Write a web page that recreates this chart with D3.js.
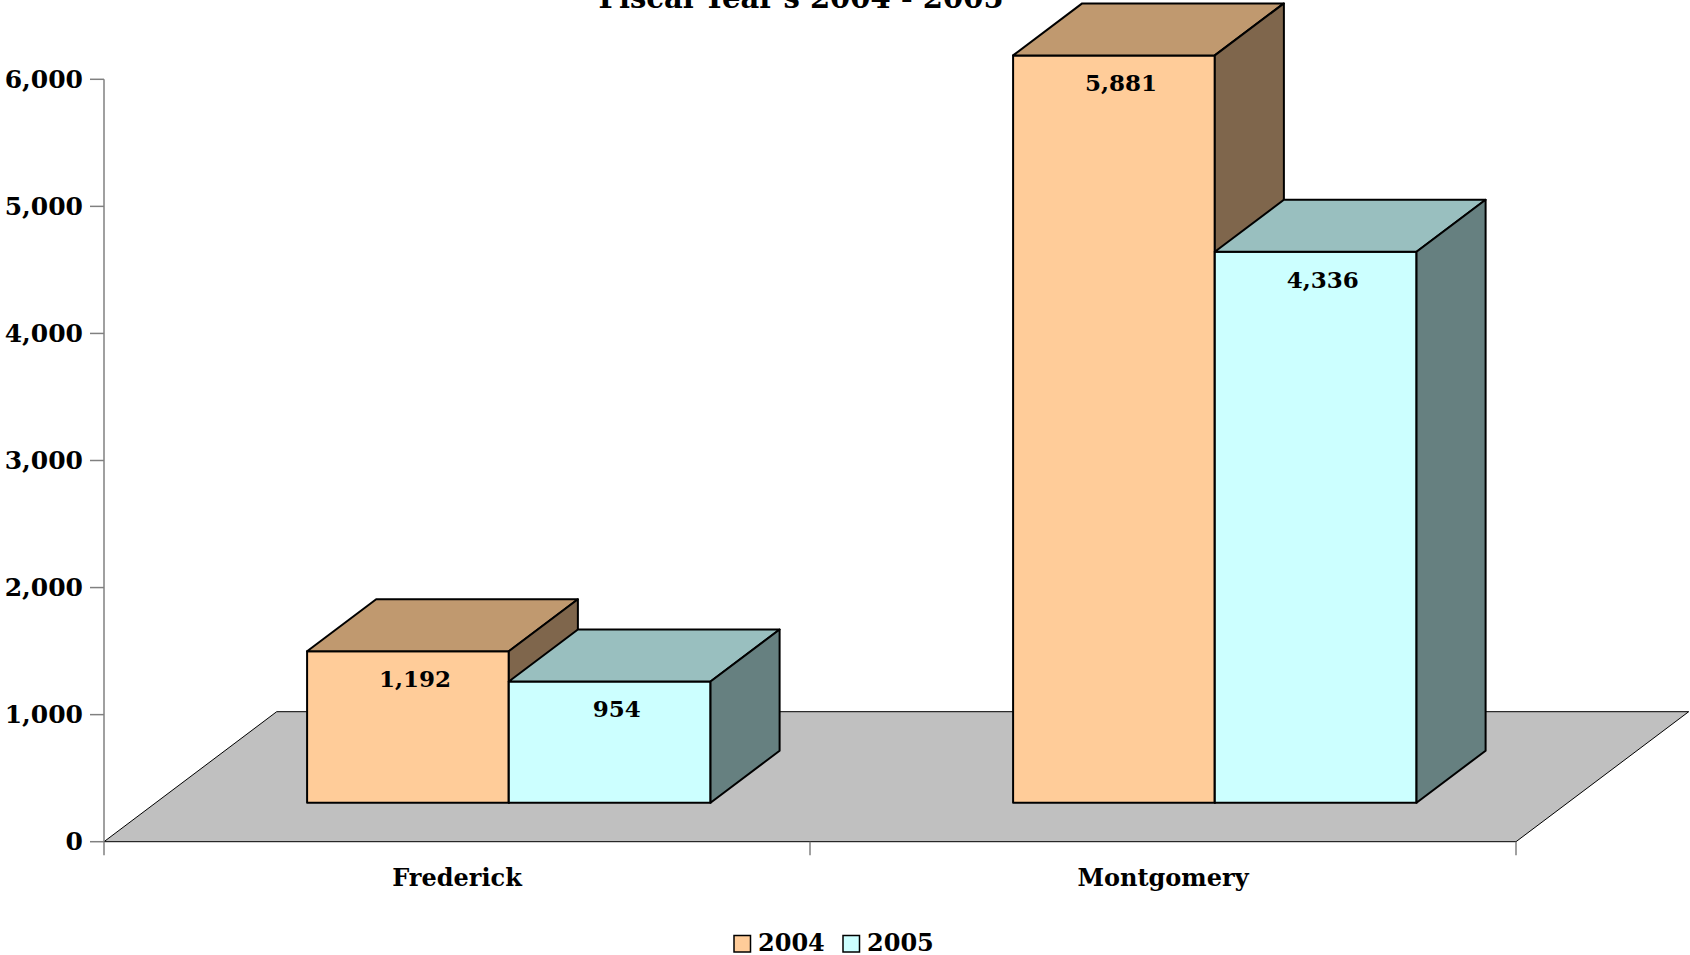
<!DOCTYPE html>
<html>
<head>
<meta charset="utf-8">
<script src="https://cdn.jsdelivr.net/npm/d3@7"></script>
<style>
  html, body { margin: 0; padding: 0; background: #fff; }
  svg { display: block; }
  text { font-family: "DejaVu Serif", serif; font-weight: bold; fill: #000; }
</style>
</head>
<body>
<svg id="chart" width="1690" height="955"></svg>
<script>
// Counties and yearly totals
const categories = ["Frederick", "Montgomery"];
const seriesNames = ["2004", "2005"];
const values2004 = [1192, 5881];
const values2005 = [954, 4336];
const yTicks = [0, 1000, 2000, 3000, 4000, 5000, 6000];
const titleText = "Fiscal Year's 2004 - 2005";

const series = [
  { name: seriesNames[0], values: values2004, front: "#FFCC99", top: "#C0996F", side: "#7F664C" },
  { name: seriesNames[1], values: values2005, front: "#CCFFFF", top: "#99BFBF", side: "#668080" }
];

const svg = d3.select("#chart");

// Plot geometry (front plane) and the oblique depth of the floor
const left = 104, right = 1516, base = 841.7, topY = 79.3;
const depthX = 172.7, depthY = -130;
const barDepthStart = 0.3, barDepthEnd = 0.7;

const y = d3.scaleLinear().domain([0, 6000]).range([base, topY]);
const x0 = d3.scaleBand().domain(categories).range([left, right]).padding(0);
const x1 = d3.scaleBand().domain(seriesNames).range([0, x0.bandwidth()])
  .paddingInner(0).paddingOuter(0.75);

// Title (upper line sits above the page edge)
svg.append("text")
  .attr("x", 801).attr("y", 8)
  .attr("text-anchor", "middle")
  .style("font-size", "29px")
  .text(titleText);

// Floor
const floorPts = [
  [left, base], [right, base],
  [right + depthX, base + depthY], [left + depthX, base + depthY]
];
svg.append("polygon")
  .attr("points", floorPts.map(p => p.join(",")).join(" "))
  .attr("fill", "#C0C0C0")
  .attr("stroke", "#000")
  .attr("stroke-width", 1);

// Value axis
svg.append("line")
  .attr("x1", left).attr("x2", left)
  .attr("y1", y(6000)).attr("y2", base)
  .attr("stroke", "#808080").attr("stroke-width", 1.5);

const yAxis = svg.append("g");
yAxis.selectAll("line.tick").data(yTicks).join("line")
  .attr("class", "tick")
  .attr("x1", left - 14).attr("x2", left)
  .attr("y1", d => y(d)).attr("y2", d => y(d))
  .attr("stroke", "#808080").attr("stroke-width", 1.5);
yAxis.selectAll("text").data(yTicks).join("text")
  .attr("x", 83).attr("y", d => y(d))
  .attr("text-anchor", "end")
  .attr("dominant-baseline", "central")
  .style("font-size", "25px")
  .text(d => d3.format(",")(d));

// Category axis ticks
const catTicks = [left, left + x0.bandwidth(), right];
svg.selectAll("line.cattick").data(catTicks).join("line")
  .attr("class", "cattick")
  .attr("x1", d => d).attr("x2", d => d)
  .attr("y1", base).attr("y2", base + 13.5)
  .attr("stroke", "#808080").attr("stroke-width", 1.5);

svg.selectAll("text.cat").data(categories).join("text")
  .attr("class", "cat")
  .attr("x", d => x0(d) + x0.bandwidth() / 2)
  .attr("y", 877)
  .attr("text-anchor", "middle")
  .attr("dominant-baseline", "central")
  .style("font-size", "24px")
  .text(d => d);

// Bars as oblique boxes
const ox = depthX * barDepthStart, oy = depthY * barDepthStart;
const dx = depthX * (barDepthEnd - barDepthStart), dy = depthY * (barDepthEnd - barDepthStart);

const bars = [];
categories.forEach((c, ci) => {
  series.forEach(s => {
    const xl = x0(c) + x1(s.name) + ox;
    const xr = xl + x1.bandwidth();
    const yb = y(0) + oy;
    const yt = y(s.values[ci]) + oy;
    bars.push({ s, v: s.values[ci], xl, xr, yb, yt });
  });
});

const barG = svg.append("g");
bars.forEach(b => {
  const g = barG.append("g");
  const poly = pts => pts.map(p => p.join(",")).join(" ");
  g.append("polygon")
    .attr("points", poly([[b.xl, b.yb], [b.xr, b.yb], [b.xr, b.yt], [b.xl, b.yt]]))
    .attr("fill", b.s.front).attr("stroke", "#000").attr("stroke-width", 2)
    .attr("stroke-linejoin", "round");
  g.append("polygon")
    .attr("points", poly([[b.xl, b.yt], [b.xr, b.yt], [b.xr + dx, b.yt + dy], [b.xl + dx, b.yt + dy]]))
    .attr("fill", b.s.top).attr("stroke", "#000").attr("stroke-width", 2)
    .attr("stroke-linejoin", "round");
  g.append("polygon")
    .attr("points", poly([[b.xr, b.yb], [b.xr + dx, b.yb + dy], [b.xr + dx, b.yt + dy], [b.xr, b.yt]]))
    .attr("fill", b.s.side).attr("stroke", "#000").attr("stroke-width", 2)
    .attr("stroke-linejoin", "round");
});

// Value labels on the front faces
barG.selectAll("text").data(bars).join("text")
  .attr("x", b => (b.xl + b.xr) / 2 + 7)
  .attr("y", b => b.yt + 27.5)
  .attr("text-anchor", "middle")
  .attr("dominant-baseline", "central")
  .style("font-size", "23px")
  .text(b => d3.format(",")(b.v));

// Legend
const legendItems = [
  { s: series[0], x: 734 },
  { s: series[1], x: 843 }
];
const lg = svg.append("g");
legendItems.forEach(it => {
  lg.append("rect")
    .attr("x", it.x).attr("y", 935.5)
    .attr("width", 16.5).attr("height", 16.5)
    .attr("fill", it.s.front).attr("stroke", "#000").attr("stroke-width", 1.5);
  lg.append("text")
    .attr("x", it.x + 24).attr("y", 951)
    .style("font-size", "24px")
    .text(it.s.name);
});
</script>
</body>
</html>
